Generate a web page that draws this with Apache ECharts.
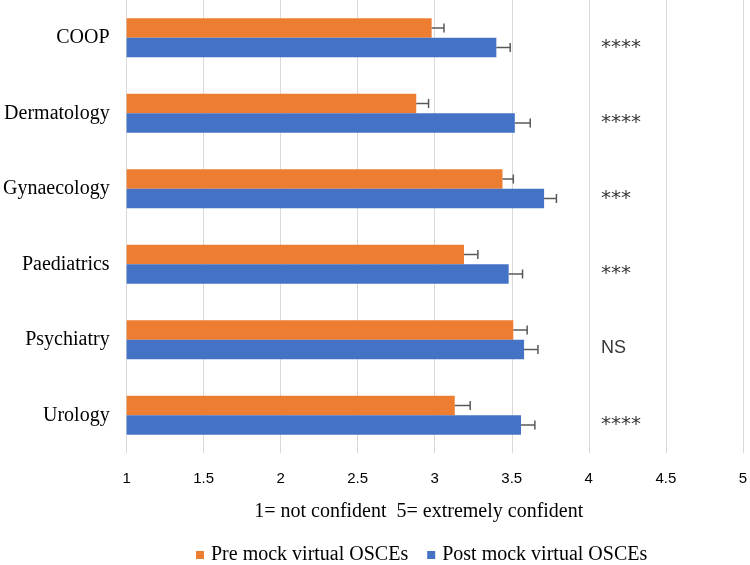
<!DOCTYPE html>
<html>
<head>
<meta charset="utf-8">
<script src="https://cdn.jsdelivr.net/npm/echarts@6/dist/echarts.min.js"></script>
<style>
  html, body { margin: 0; padding: 0; background: #fff; }
  #chart { width: 750px; height: 565px; }
</style>
</head>
<body>
<div id="chart"></div>
<script>
// categories top to bottom
const categories = ['COOP', 'Dermatology', 'Gynaecology', 'Paediatrics', 'Psychiatry', 'Urology'];
// mean confidence (1-5) and error bar length
const preMeans = [2.98, 2.88, 3.44, 3.19, 3.51, 3.13];
const preErr = [0.08, 0.08, 0.07, 0.09, 0.09, 0.10];
const postMeans = [3.40, 3.52, 3.71, 3.48, 3.58, 3.56];
const postErr = [0.09, 0.10, 0.08, 0.09, 0.09, 0.09];
// significance markers
const significance = ['****', '****', '***', '***', 'NS', '****'];
const seriesNames = ['Pre mock virtual OSCEs', 'Post mock virtual OSCEs'];

const BAR_W = 19.5;

// error bars (plus side only), shifted onto the bar they belong to
function errorSeries(means, errs, shift) {
  return {
    type: 'custom',
    data: means.map((m, i) => [m, m + errs[i], i]),
    encode: { x: [0, 1], y: 2 },
    z: 10,
    silent: true,
    renderItem: function (params, api) {
      const s = api.coord([api.value(0), api.value(2)]);
      const e = api.coord([api.value(1), api.value(2)]);
      const y = s[1] + shift;
      const style = { stroke: '#595959', lineWidth: 1.5 };
      return {
        type: 'group',
        children: [
          { type: 'line', shape: { x1: s[0], y1: y, x2: e[0], y2: y }, style: style },
          { type: 'line', shape: { x1: e[0], y1: y - 4.5, x2: e[0], y2: y + 4.5 }, style: style }
        ]
      };
    }
  };
}

const chart = echarts.init(document.getElementById('chart'));
chart.setOption({
  animation: false,
  grid: { left: 123, right: 5, top: 0, bottom: 112, containLabel: false },
  legend: {
    data: seriesNames,
    left: 191,
    top: 540,
    icon: 'rect',
    itemWidth: 8,
    itemHeight: 8,
    itemGap: 19,
    textStyle: { fontFamily: 'Liberation Serif', fontSize: 20, color: '#000', padding: [0, 0, 0, 2] }
  },
  xAxis: {
    type: 'value',
    min: 1,
    max: 5,
    interval: 0.5,
    axisLine: { show: false },
    axisTick: { show: false },
    splitLine: { lineStyle: { color: '#d9d9d9', width: 1 } },
    axisLabel: { margin: 18, fontFamily: 'Liberation Sans', fontSize: 15, color: '#000' },
    name: '1= not confident  5= extremely confident',
    nameLocation: 'middle',
    nameGap: 49,
    nameTextStyle: { fontFamily: 'Liberation Serif', fontSize: 20, color: '#000', padding: [0, 32, 0, 0] }
  },
  yAxis: {
    type: 'category',
    data: categories,
    inverse: true,
    axisLine: { show: true, lineStyle: { color: '#d9d9d9', width: 1 } },
    axisTick: { show: false },
    axisLabel: { margin: 17, fontFamily: 'Liberation Serif', fontSize: 20, color: '#000' }
  },
  series: [
    {
      name: seriesNames[0],
      type: 'bar',
      data: preMeans,
      barWidth: BAR_W,
      barGap: '0%',
      itemStyle: { color: '#ED7D31' }
    },
    {
      name: seriesNames[1],
      type: 'bar',
      data: postMeans,
      barWidth: BAR_W,
      barGap: '0%',
      itemStyle: { color: '#4472C4' }
    },
    errorSeries(preMeans, preErr, -BAR_W / 2),
    errorSeries(postMeans, postErr, BAR_W / 2),
    {
      type: 'scatter',
      silent: true,
      symbolSize: 0,
      data: significance.map((s, i) => [4.08, i, s]),
      label: {
        show: true,
        position: 'inside',
        align: 'left',
        offset: [0, 8],
        formatter: p => p.data[2] === 'NS' ? '{ns|NS}' : '{st|' + p.data[2] + '}',
        rich: {
          st: { fontFamily: 'DejaVu Sans', fontSize: 20, color: '#000', padding: [4, 0, 0, 0] },
          ns: { fontFamily: 'Liberation Sans', fontSize: 18, color: '#000' }
        }
      }
    }
  ]
});
</script>
</body>
</html>
